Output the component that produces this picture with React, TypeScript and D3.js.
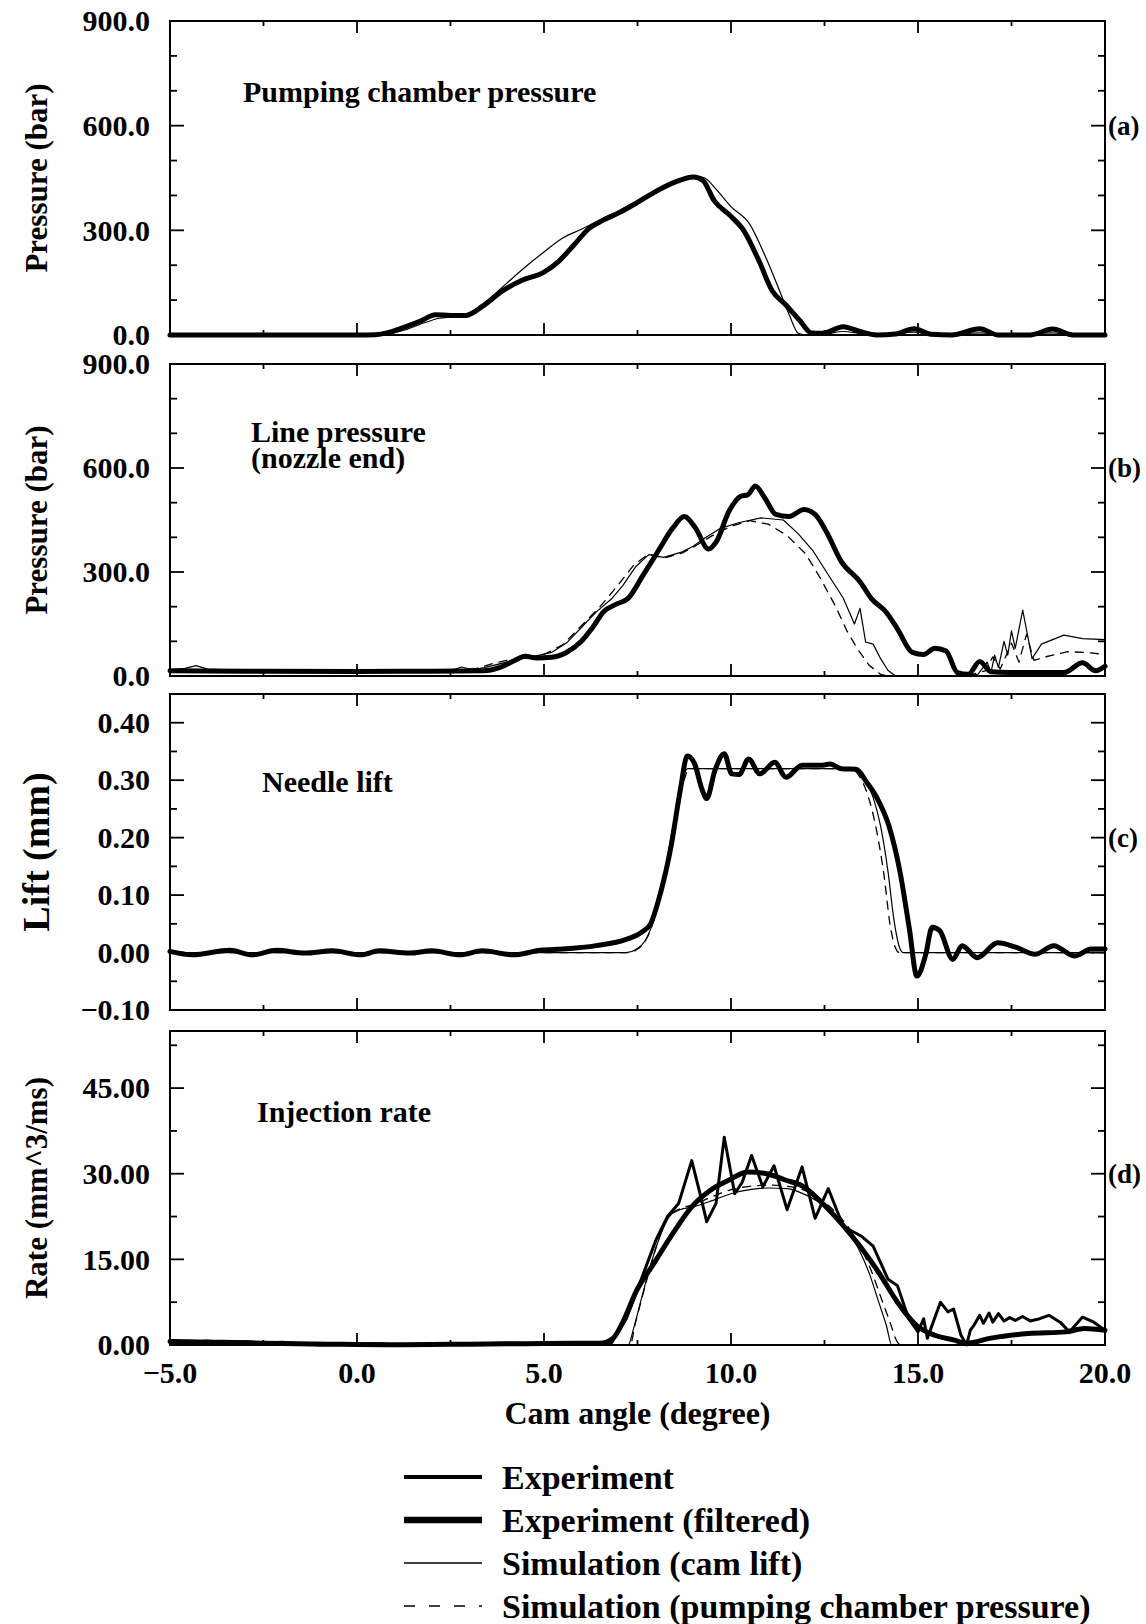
import React from "react";
import * as d3 from "d3";

type Pt = [number, number];

// ---------- axis / tick data ----------
const X_DOMAIN: [number, number] = [-5, 20];
const X_MAJOR = [-5, 0, 5, 10, 15, 20];
const X_MINOR = [-2.5, 2.5, 7.5, 12.5, 17.5];
const X_TICK_LABELS = ["\u22125.0", "0.0", "5.0", "10.0", "15.0", "20.0"];
const X_TITLE = "Cam angle (degree)";

const PRESSURE_TICKS = [0, 300, 600, 900];
const PRESSURE_LABELS = ["0.0", "300.0", "600.0", "900.0"];
const PRESSURE_MINOR = [100, 200, 400, 500, 700, 800];
const LIFT_TICKS = [-0.1, 0, 0.1, 0.2, 0.3, 0.4];
const LIFT_LABELS = ["\u22120.10", "0.00", "0.10", "0.20", "0.30", "0.40"];
const LIFT_MINOR = [-0.05, 0.05, 0.15, 0.25, 0.35];
const RATE_TICKS = [0, 15, 30, 45];
const RATE_LABELS = ["0.00", "15.00", "30.00", "45.00"];
const RATE_MINOR = [7.5, 22.5, 37.5, 52.5];

const LEGEND_LABELS = [
  "Experiment",
  "Experiment (filtered)",
  "Simulation (cam lift)",
  "Simulation (pumping chamber pressure)",
];

// ---------- (a) pumping chamber pressure ----------
const aFiltered: Pt[] = [
  [-5, 0], [-3, 0], [-1, 0], [0, 0], [0.5, 1], [0.8, 6], [1.2, 20], [1.7, 40], [2.1, 58], [2.5, 56],
  [2.9, 56], [3.35, 82], [3.9, 127], [4.4, 156], [5.0, 180], [5.4, 212], [5.8, 258], [6.2, 305],
  [6.6, 330], [7.0, 350], [7.5, 380], [8.0, 412], [8.5, 438], [9.0, 453], [9.25, 443], [9.55, 385],
  [10.0, 340], [10.35, 298], [10.75, 212], [11.1, 127], [11.45, 88], [11.85, 40], [12.15, 6],
  [12.45, 5], [13.0, 24], [13.45, 10], [13.9, 0], [14.4, 3], [14.9, 18], [15.35, 2], [15.9, 0],
  [16.65, 18], [17.15, 0], [18.0, 0], [18.6, 17], [19.15, 0], [20, 0],
];
const aSimCam: Pt[] = [
  [-5, 0], [0.6, 0], [0.9, 4], [1.3, 15], [1.8, 35], [2.2, 48], [2.6, 53], [3.0, 64], [3.5, 100],
  [4.0, 148], [4.5, 195], [5.0, 238], [5.5, 278], [6.0, 303], [6.5, 330], [7.0, 356], [7.5, 385],
  [8.0, 414], [8.5, 440], [9.1, 455], [9.3, 450], [9.6, 418], [10.0, 368], [10.5, 318], [10.9, 230],
  [11.25, 140], [11.55, 60], [11.8, 5], [12.0, 0], [12.5, 2], [13.0, 10], [13.5, 4], [14.0, 0],
  [14.9, 8], [15.4, 0], [16.7, 6], [17.2, 0], [18.6, 6], [19.1, 0], [20, 0],
];

// ---------- (b) line pressure ----------
const bFiltered: Pt[] = [
  [-5, 15], [-3, 14], [0, 13], [2, 14], [3.4, 15], [3.8, 24], [4.2, 44], [4.5, 57], [4.8, 52],
  [5.2, 54], [5.6, 68], [6.0, 100], [6.3, 140], [6.6, 186], [6.95, 208], [7.25, 224], [7.65, 291],
  [8.05, 360], [8.45, 428], [8.75, 460], [9.05, 427], [9.4, 366], [9.6, 386], [9.95, 476],
  [10.25, 518], [10.45, 523], [10.65, 548], [10.9, 514], [11.2, 466], [11.55, 460], [11.95, 480],
  [12.25, 466], [12.55, 416], [12.95, 330], [13.45, 272], [13.75, 224], [14.15, 184], [14.45, 136],
  [14.85, 68], [15.15, 62], [15.45, 80], [15.75, 72], [16.05, 10], [16.35, 5], [16.65, 42],
  [16.95, 12], [17.45, 10], [18.9, 10], [19.4, 38], [19.75, 15], [20, 28],
];
const bSimCam: Pt[] = [
  [-5, 18], [-4.6, 22], [-4.3, 30], [-4.0, 20], [-3.5, 18], [0, 15], [2.5, 16], [2.8, 26], [3.1, 18],
  [3.4, 24], [3.7, 32], [4.0, 40], [4.4, 50], [4.8, 58], [5.2, 68], [5.6, 95], [6.0, 140], [6.4, 185],
  [6.8, 222], [7.1, 260], [7.45, 315], [7.8, 350], [8.2, 342], [8.7, 358], [9.0, 375], [9.3, 398],
  [9.7, 425], [10.2, 442], [10.8, 456], [11.4, 450], [11.8, 410], [12.2, 360], [12.6, 292],
  [13.0, 225], [13.3, 150], [13.45, 195], [13.6, 98], [13.8, 92], [14.0, 50], [14.2, 16], [14.4, 0],
  [16.2, 0], [16.6, 5], [16.85, 40], [16.95, 10], [17.05, 60], [17.15, 25], [17.3, 100], [17.4, 60],
  [17.5, 130], [17.6, 80], [17.8, 190], [18.05, 50], [18.3, 92], [18.9, 118], [19.4, 108], [20, 105],
];
const bSimPump: Pt[] = [
  [-5, 18], [0, 15], [2.5, 15], [3.2, 22], [3.6, 35], [4.0, 45], [4.5, 52], [5.0, 62], [5.5, 90],
  [6.0, 145], [6.5, 200], [7.0, 265], [7.4, 320], [7.8, 352], [8.2, 340], [8.7, 355], [9.0, 372],
  [9.5, 405], [10.0, 432], [10.5, 448], [11.0, 438], [11.5, 405], [12.0, 352], [12.4, 280],
  [12.8, 200], [13.1, 130], [13.4, 75], [13.7, 30], [14.0, 5], [14.2, 0], [16.3, 0], [16.8, 15],
  [17.0, 55], [17.2, 20], [17.5, 95], [17.7, 40], [17.9, 120], [18.1, 45], [18.4, 55], [19.0, 70],
  [19.5, 68], [20, 62],
];

// ---------- (c) needle lift ----------
const cFiltered: Pt[] = [
  [-5, 0.002], [-4.4, -0.004], [-3.4, 0.004], [-2.8, -0.004], [-2.15, 0.004], [-1.4, -0.001],
  [-0.65, 0.003], [0.1, -0.004], [0.6, 0.003], [1.4, -0.001], [2.0, 0.003], [2.75, -0.004],
  [3.35, 0.003], [4.2, -0.004], [4.9, 0.004], [5.5, 0.006], [6.4, 0.012], [7.2, 0.023], [7.6, 0.035],
  [7.85, 0.05], [8.1, 0.1], [8.4, 0.186], [8.65, 0.285], [8.83, 0.342], [9.03, 0.328], [9.22, 0.285],
  [9.35, 0.268], [9.57, 0.317], [9.82, 0.346], [10.02, 0.311], [10.22, 0.31], [10.47, 0.337],
  [10.77, 0.311], [11.17, 0.331], [11.47, 0.305], [11.9, 0.326], [12.4, 0.326], [12.65, 0.328],
  [12.95, 0.32], [13.35, 0.319], [13.62, 0.297], [13.92, 0.267], [14.22, 0.221], [14.52, 0.14],
  [14.77, 0.041], [14.97, -0.041], [15.2, -0.005], [15.38, 0.044], [15.58, 0.038], [15.93, -0.012],
  [16.18, 0.012], [16.58, -0.009], [17.13, 0.017], [17.63, 0.009], [18.13, -0.003], [18.63, 0.012],
  [19.18, -0.006], [19.63, 0.006], [20, 0.006],
];
const cSimCam: Pt[] = [
  [-5, 0], [7.2, 0], [7.45, 0.005], [7.7, 0.02], [7.95, 0.06], [8.2, 0.13], [8.45, 0.22], [8.65, 0.29],
  [8.85, 0.32], [9.1, 0.32], [13.3, 0.32], [13.55, 0.305], [13.8, 0.27], [14.0, 0.22], [14.2, 0.14],
  [14.35, 0.06], [14.5, 0.01], [14.6, 0], [20, 0],
];
const cSimPump: Pt[] = [
  [-5, 0], [7.25, 0], [7.5, 0.006], [7.75, 0.025], [8.0, 0.07], [8.25, 0.14], [8.5, 0.23], [8.7, 0.29],
  [8.9, 0.32], [9.1, 0.32], [13.2, 0.32], [13.45, 0.305], [13.7, 0.265], [13.9, 0.21], [14.1, 0.13],
  [14.25, 0.05], [14.4, 0.008], [14.5, 0], [20, 0],
];

// ---------- (d) injection rate ----------
const dFiltered: Pt[] = [
  [-5, 0.6], [-4, 0.5], [-3, 0.4], [-2, 0.25], [-1, 0.15], [0, 0.1], [1, 0.05], [2, 0.1], [3, 0.15],
  [4, 0.2], [5, 0.25], [6, 0.3], [6.5, 0.3], [6.85, 1.2], [7.15, 4.6], [7.45, 9.2], [7.95, 14.4],
  [8.45, 19.6], [8.95, 24.2], [9.45, 27.1], [9.95, 28.9], [10.45, 30.3], [10.95, 30.0], [11.45, 28.9],
  [11.95, 27.7], [12.45, 24.8], [12.95, 21.3], [13.45, 17.3], [13.95, 12.7], [14.45, 7.5],
  [14.95, 3.5], [15.45, 1.7], [15.95, 0.9], [16.3, 0.3], [16.95, 1.2], [17.95, 2.0], [18.95, 2.3],
  [19.45, 2.9], [20, 2.6],
];
const dExp: Pt[] = [
  [-5, 0.8], [-4.5, 0.5], [-4, 0.7], [-3.5, 0.4], [-3, 0.6], [-2.5, 0.3], [-2, 0.5], [-1.5, 0.2],
  [-1, 0.3], [0, 0.1], [0.5, 0.2], [1.0, 0.05], [2.0, 0.1], [3, 0.2], [4, 0.3], [5, 0.2], [6, 0.3],
  [6.8, 0.3], [7.2, 4.6], [7.6, 11.5], [8.0, 18.5], [8.3, 22.5], [8.6, 24.8], [8.95, 32.3],
  [9.15, 27.1], [9.35, 21.6], [9.6, 24.8], [9.82, 36.4], [10.1, 26.5], [10.3, 28.5], [10.55, 33.2],
  [10.85, 27.7], [11.15, 31.4], [11.5, 23.7], [11.9, 31.2], [12.25, 22.2], [12.6, 27.4], [13.0, 20.8],
  [13.5, 19.0], [13.8, 17.3], [14.2, 11.5], [14.45, 10.4], [14.75, 4.6], [15.0, 2.3], [15.15, 4.6],
  [15.25, 1.2], [15.6, 7.5], [15.8, 5.8], [15.95, 6.3], [16.15, 1.7], [16.3, 0], [16.4, 2.6],
  [16.5, 3.5], [16.65, 5.2], [16.75, 3.8], [16.9, 5.6], [17.0, 4.0], [17.15, 5.5], [17.3, 4.2],
  [17.45, 4.8], [17.6, 4.3], [17.8, 5.0], [18.0, 4.2], [18.2, 4.5], [18.5, 5.2], [18.8, 4.0],
  [19.05, 2.3], [19.4, 4.9], [19.7, 4.0], [20, 2.6],
];
const dSimCam: Pt[] = [
  [-5, 0], [7.25, 0], [7.4, 3], [7.6, 8], [7.85, 14], [8.1, 19], [8.35, 22.5], [8.6, 23.6], [9.0, 24.2],
  [9.5, 25.3], [10.0, 26.5], [10.5, 27.2], [11.0, 27.5], [11.5, 27.4], [12.0, 26.3], [12.5, 24.3],
  [13.0, 21.0], [13.4, 17.0], [13.7, 12.5], [13.95, 7.5], [14.15, 3.5], [14.3, 0], [20, 0],
];
const dSimPump: Pt[] = [
  [-5, 0], [7.3, 0], [7.45, 4], [7.65, 9], [7.9, 15], [8.15, 20], [8.4, 23], [8.7, 24], [9.0, 24.6],
  [9.5, 26], [10.0, 27.2], [10.5, 27.8], [11.0, 28], [11.5, 27.8], [12.0, 27], [12.5, 25], [13.0, 21.8],
  [13.4, 18], [13.75, 13], [14.0, 8.5], [14.25, 4], [14.45, 0.5], [14.55, 0], [20, 0],
];

// ---------- layout ----------
const W = 1146;
const H = 1624;
const X0 = 170;
const X1 = 1105;
const FONT = "'Liberation Serif', 'Times New Roman', Times, serif";

type SeriesKind = "exp" | "filtered" | "simCam" | "simPump";
const STYLE: Record<SeriesKind, { w: number; dash?: string }> = {
  exp: { w: 3 },
  filtered: { w: 5 },
  simCam: { w: 1.2 },
  simPump: { w: 1.3, dash: "8,7" },
};

type Panel = {
  top: number;
  bottom: number;
  domain: [number, number];
  ticks: number[];
  labels: string[];
  minor: number[];
  yTitle: string;
  yTitleSize: number;
  title: string[];
  titleX: number;
  titleY: number;
  tag: string;
  tagValue: number;
  series: { kind: SeriesKind; data: Pt[]; linear?: boolean }[];
};

const PANELS: Panel[] = [
  {
    top: 21, bottom: 335, domain: [0, 900], ticks: PRESSURE_TICKS, labels: PRESSURE_LABELS,
    minor: PRESSURE_MINOR, yTitle: "Pressure (bar)", yTitleSize: 31,
    title: ["Pumping chamber pressure"], titleX: 243, titleY: 102, tag: "(a)", tagValue: 600,
    series: [
      { kind: "simCam", data: aSimCam },
      { kind: "filtered", data: aFiltered },
    ],
  },
  {
    top: 364, bottom: 676, domain: [0, 900], ticks: PRESSURE_TICKS, labels: PRESSURE_LABELS,
    minor: PRESSURE_MINOR, yTitle: "Pressure (bar)", yTitleSize: 31,
    title: ["Line pressure", "(nozzle end)"], titleX: 251, titleY: 442, tag: "(b)", tagValue: 600,
    series: [
      { kind: "simPump", data: bSimPump, linear: true },
      { kind: "simCam", data: bSimCam, linear: true },
      { kind: "filtered", data: bFiltered },
    ],
  },
  {
    top: 694, bottom: 1010, domain: [-0.1, 0.45], ticks: LIFT_TICKS, labels: LIFT_LABELS,
    minor: LIFT_MINOR, yTitle: "Lift (mm)", yTitleSize: 38,
    title: ["Needle lift"], titleX: 262, titleY: 792, tag: "(c)", tagValue: 0.2,
    series: [
      { kind: "simPump", data: cSimPump },
      { kind: "simCam", data: cSimCam },
      { kind: "filtered", data: cFiltered },
    ],
  },
  {
    top: 1031, bottom: 1345, domain: [0, 55], ticks: RATE_TICKS, labels: RATE_LABELS,
    minor: RATE_MINOR, yTitle: "Rate (mm^3/ms)", yTitleSize: 31,
    title: ["Injection rate"], titleX: 257, titleY: 1122, tag: "(d)", tagValue: 30,
    series: [
      { kind: "simPump", data: dSimPump },
      { kind: "simCam", data: dSimCam },
      { kind: "exp", data: dExp, linear: true },
      { kind: "filtered", data: dFiltered },
    ],
  },
];

const x = d3.scaleLinear().domain(X_DOMAIN).range([X0, X1]);

function PanelView({ p, last }: { p: Panel; last: boolean }) {
  const y = d3.scaleLinear().domain(p.domain).range([p.bottom, p.top]);
  const mid = (p.top + p.bottom) / 2;
  return (
    <g>
      {p.series.map((s, i) => {
        const line = d3
          .line<Pt>()
          .x((d) => x(d[0]))
          .y((d) => y(d[1]))
          .curve(s.linear || s.kind === "exp" ? d3.curveLinear : d3.curveMonotoneX);
        const st = STYLE[s.kind];
        return (
          <path
            key={i}
            d={line(s.data) || ""}
            fill="none"
            stroke="#000"
            strokeWidth={st.w}
            strokeDasharray={st.dash}
            strokeLinejoin="round"
            strokeLinecap="round"
          />
        );
      })}
      <rect x={X0} y={p.top} width={X1 - X0} height={p.bottom - p.top} fill="none" stroke="#000" strokeWidth={2} />
      {X_MAJOR.map((v, i) => (
        <g key={"xm" + i}>
          <line x1={x(v)} x2={x(v)} y1={p.top} y2={p.top + 12} stroke="#000" strokeWidth={1.8} />
          <line x1={x(v)} x2={x(v)} y1={p.bottom} y2={p.bottom - 12} stroke="#000" strokeWidth={1.8} />
        </g>
      ))}
      {X_MINOR.map((v, i) => (
        <g key={"xn" + i}>
          <line x1={x(v)} x2={x(v)} y1={p.top} y2={p.top + 5} stroke="#000" strokeWidth={1.8} />
          <line x1={x(v)} x2={x(v)} y1={p.bottom} y2={p.bottom - 5} stroke="#000" strokeWidth={1.8} />
        </g>
      ))}
      {p.ticks.map((v, i) => (
        <g key={"ym" + i}>
          <line x1={X0} x2={X0 + 14} y1={y(v)} y2={y(v)} stroke="#000" strokeWidth={1.8} />
          <line x1={X1} x2={X1 - 14} y1={y(v)} y2={y(v)} stroke="#000" strokeWidth={1.8} />
          <text
            x={150}
            y={y(v)}
            dy="0.34em"
            textAnchor="end"
            fontFamily={FONT}
            fontWeight="bold"
            fontSize={30}
          >
            {p.labels[i]}
          </text>
        </g>
      ))}
      {p.minor.map((v, i) => (
        <g key={"yn" + i}>
          <line x1={X0} x2={X0 + 7} y1={y(v)} y2={y(v)} stroke="#000" strokeWidth={1.8} />
          <line x1={X1} x2={X1 - 7} y1={y(v)} y2={y(v)} stroke="#000" strokeWidth={1.8} />
        </g>
      ))}
      <text
        transform={`translate(36,${mid}) rotate(-90)`}
        textAnchor="middle"
        dy="0.34em"
        fontFamily={FONT}
        fontWeight="bold"
        fontSize={p.yTitleSize}
      >
        {p.yTitle}
      </text>
      {p.title.map((t, i) => (
        <text key={"t" + i} x={p.titleX} y={p.titleY + i * 26} fontFamily={FONT} fontWeight="bold" fontSize={30}>
          {t}
        </text>
      ))}
      <text x={X1 + 3} y={y(p.tagValue)} dy="0.34em" fontFamily={FONT} fontWeight="bold" fontSize={27}>
        {p.tag}
      </text>
      {last &&
        X_MAJOR.map((v, i) => (
          <text
            key={"xl" + i}
            x={x(v)}
            y={1383}
            textAnchor="middle"
            fontFamily={FONT}
            fontWeight="bold"
            fontSize={30}
          >
            {X_TICK_LABELS[i]}
          </text>
        ))}
    </g>
  );
}

export default function App() {
  const legendKinds: SeriesKind[] = ["exp", "filtered", "simCam", "simPump"];
  return (
    <svg
      width={W}
      height={H}
      viewBox={`0 0 ${W} ${H}`}
      style={{ position: "absolute", left: 0, top: 0, background: "#fff", display: "block" }}
    >
      <rect x={0} y={0} width={W} height={H} fill="#fff" />
      {PANELS.map((p, i) => (
        <PanelView key={i} p={p} last={i === PANELS.length - 1} />
      ))}
      <text x={(X0 + X1) / 2} y={1424} textAnchor="middle" fontFamily={FONT} fontWeight="bold" fontSize={32}>
        {X_TITLE}
      </text>
      {LEGEND_LABELS.map((lab, i) => {
        const yy = 1477 + i * 43;
        const kind = legendKinds[i];
        const lw = kind === "exp" ? 4 : kind === "filtered" ? 6.5 : 1.4;
        const dash = kind === "simPump" ? "11,14" : undefined;
        return (
          <g key={"lg" + i}>
            <line x1={404} x2={482} y1={yy} y2={yy} stroke="#000" strokeWidth={lw} strokeDasharray={dash} />
            <text x={502} y={yy} dy="0.34em" fontFamily={FONT} fontWeight="bold" fontSize={34}>
              {lab}
            </text>
          </g>
        );
      })}
    </svg>
  );
}
